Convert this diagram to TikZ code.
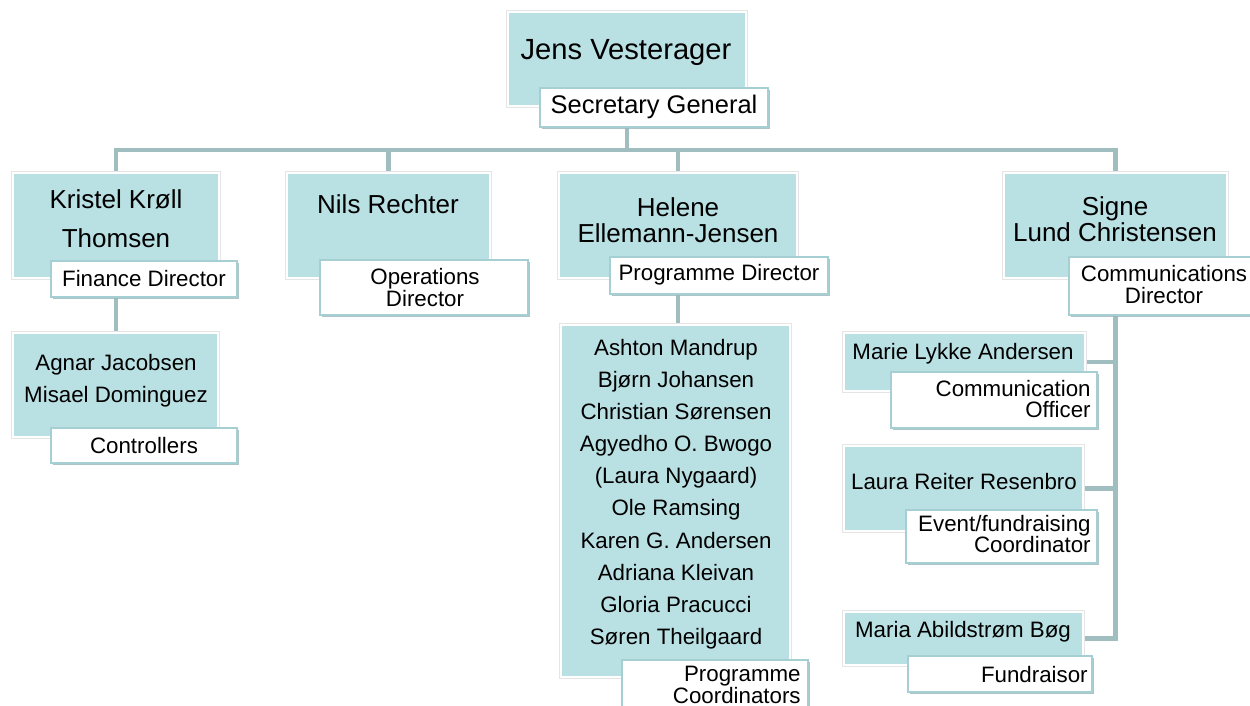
\documentclass[tikz,border=0pt]{standalone}
\usepackage{fontspec}
\setmainfont{Liberation Sans}
\usepackage{tikz}
\usetikzlibrary{fit,shadows,backgrounds}
\definecolor{boxteal}{HTML}{B9E0E3}
\definecolor{linkgray}{HTML}{A0BDBF}
\definecolor{tagline}{HTML}{A6CFD3}
\definecolor{tagshadow}{HTML}{9AB7B9}

\begin{document}
\begin{tikzpicture}[x=0.02cm, y=-0.02cm,
  person/.style={fill=boxteal, draw=white, line width=1.2pt, inner sep=0pt,
    preaction={draw=black!10, line width=2.1pt}},
  role/.style={fill=white, draw=tagline, line width=0.9pt, inner sep=0pt,
    drop shadow={shadow xshift=0.9pt, shadow yshift=-0.9pt, fill=tagshadow, opacity=0.8}},
  bigtxt/.style={font=\fontsize{16.6}{19}\selectfont, inner sep=0pt},
  headtxt/.style={font=\fontsize{14.8}{14.8}\selectfont, align=center, inner sep=0pt},
  roletxt/.style={font=\fontsize{12.7}{12.5}\selectfont, align=center, inner sep=0pt},
  listtxt/.style={font=\fontsize{12.7}{18.3}\selectfont, align=center, inner sep=0pt},
  link/.style={draw=linkgray, line width=2.8pt}
]
  \useasboundingbox (0,0) rectangle (1250,706);

  % top
  \node[person, fit={(508,12) (746,106)}] (jens) {};
  \node[role, fit={(540,88) (768,127)}] (secgen) {};
  \node[bigtxt] (jenstxt) at (626,52) {Jens Vesterager};
  \node[font=\fontsize{14.5}{14.5}\selectfont, inner sep=0pt] (secgentxt) at (654,107) {Secretary General};

  % directors
  \node[person, fit={(13,173) (219,278)}] (kristel) {};
  \node[role, fit={(51,261) (237,297)}] (findir) {};
  \node[headtxt, font=\fontsize{14.8}{22}\selectfont] (kristeltxt) at (116,219) {Kristel Krøll\\Thomsen};
  \node[roletxt] (findirtxt) at (144,279) {Finance Director};

  \node[person, fit={(287,173) (490,278)}] (nils) {};
  \node[role, fit={(320,260) (528,315)}] (opsdir) {};
  \node[headtxt] (nilstxt) at (388,204) {Nils Rechter};
  \node[roletxt] (opsdirtxt) at (425,288) {Operations\\Director};

  \node[person, fit={(559,173) (797,278)}] (helene) {};
  \node[role, fit={(610,257) (828,294)}] (progdir) {};
  \node[headtxt] (helenetxt) at (678,220) {Helene\\Ellemann-Jensen};
  \node[roletxt] (progdirtxt) at (719,275) {Programme Director};

  \node[person, fit={(1004,173) (1227,278)}] (signe) {};
  \node[role, fit={(1069,257) (1256,315)}] (commdir) {};
  \node[headtxt] (signetxt) at (1115,219) {Signe\\Lund Christensen};
  \node[roletxt] (commdirtxt) at (1164,285) {Communications\\Director};

  % staff
  \node[person, fit={(13,333) (218,437)}] (ctrl) {};
  \node[role, fit={(51,428) (237,463)}] (ctrlrole) {};
  \node[listtxt] (ctrltxt) at (116,381) {Agnar Jacobsen\\Misael Dominguez};
  \node[roletxt] (ctrlroletxt) at (144,446) {Controllers};

  \node[person, fit={(561,325) (790,677)}] (coord) {};
  \node[role, fit={(622,660) (808,712)}] (coordrole) {};
  \node[listtxt] (coordtxt) at (676,494) {Ashton Mandrup\\Bjørn Johansen\\Christian Sørensen\\Agyedho O. Bwogo\\(Laura Nygaard)\\Ole Ramsing\\Karen G. Andersen\\Adriana Kleivan\\Gloria Pracucci\\Søren Theilgaard};
  \node[roletxt, align=right, anchor=east] (coordroletxt) at (801,685) {Programme\\Coordinators};

  \node[person, fit={(844,333) (1085,391)}] (marie) {};
  \node[role, fit={(891,372) (1097,428)}] (commoff) {};
  \node[roletxt] (marietxt) at (963,354) {Marie Lykke Andersen};
  \node[roletxt, align=right, anchor=east] (commofftxt) at (1091,399) {Communication\\Officer};

  \node[person, fit={(844,446) (1083,531)}] (laura) {};
  \node[role, fit={(906,510) (1097,563)}] (eventrole) {};
  \node[roletxt] (lauratxt) at (964,482) {Laura Reiter Resenbro};
  \node[roletxt, align=right, anchor=east] (eventroletxt) at (1091,534) {Event/fundraising\\Coordinator};

  \node[person, fit={(844,612) (1083,665)}] (maria) {};
  \node[role, fit={(908,656) (1092,692)}] (fundrole) {};
  \node[roletxt] (mariatxt) at (963,632) {Maria Abildstrøm Bøg};
  \node[roletxt, anchor=east] (fundroletxt) at (1088,675) {Fundraisor};

  \begin{scope}[on background layer]
    \fill[white] (0,0) rectangle (1250,706);
    \coordinate (bus) at (627,150);
    \draw[link] (jens.south) -- (bus);
    \draw[link] (bus) -| (kristel.north);
    \draw[link] (bus) -| (nils.north);
    \draw[link] (bus) -| (helene.north);
    \draw[link] (bus) -| (signe.north);
    \draw[link] (kristel.south) -- (kristel.south |- ctrl.north);
    \draw[link] (helene.south) -- (helene.south |- coord.north);
    \draw[link] (signe.south) |- (marie.east);
    \draw[link] (signe.south) |- (laura.east);
    \draw[link] (signe.south) |- (maria.east);
  \end{scope}
\end{tikzpicture}
\end{document}
